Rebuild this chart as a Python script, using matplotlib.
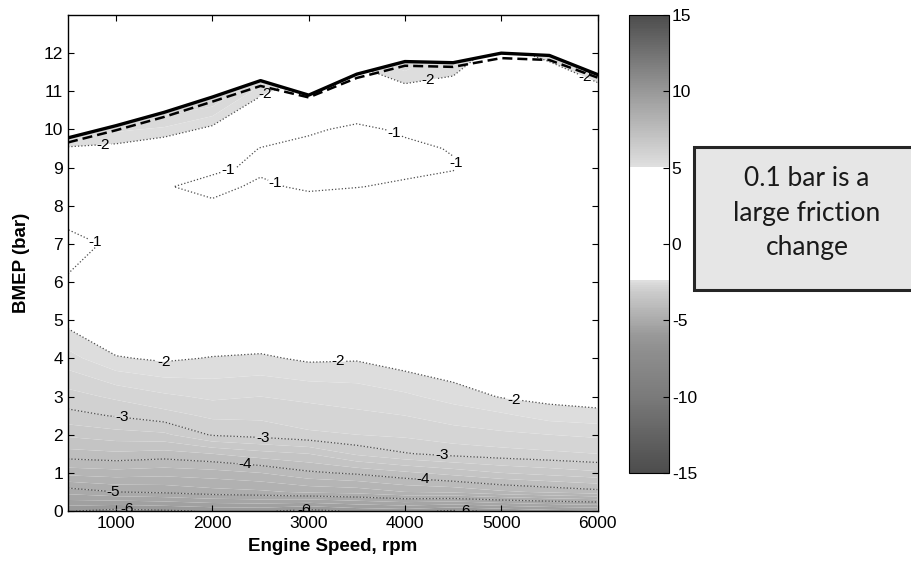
import numpy as np
import matplotlib
matplotlib.use("Agg")
import matplotlib.pyplot as plt
from matplotlib.colors import LinearSegmentedColormap, Normalize
from matplotlib.patches import Polygon, Rectangle
import matplotlib.cm as cm

plt.rcParams['font.family'] = ['Liberation Sans', 'DejaVu Sans']
plt.rcParams['axes.unicode_minus'] = False

# ---------------- data ----------------
speed_rpm = [500, 1000, 1500, 2000, 2500, 3000, 3500, 4000, 4500, 5000, 5500, 6000]
bmep_bar = [0, 0.5, 1, 1.5, 2, 2.5, 3, 4, 5, 6, 7, 8, 8.5, 9, 9.5, 10, 11, 12, 13]

# friction change (FMEP delta) per speed column, one value per bmep_bar row
dfmep_500 = [-5.98, -5.15, -4.4, -3.85, -3.45, -3.08, -2.85, -2.35, -1.9, -1.05, -0.82, -1.3, -1.45, -1.7, -1.97, -2.3, -3.0, -3.5, -4.0]
dfmep_1000 = [-6.1, -5.0, -4.35, -3.8, -3.35, -2.98, -2.7, -2.03, -1.6, -1.35, -1.1, -1.3, -1.4, -1.5, -1.9, -2.3, -3.0, -3.6, -4.2]
dfmep_1500 = [-6.05, -4.95, -4.4, -3.85, -3.3, -2.85, -2.55, -1.95, -1.55, -1.35, -1.25, -1.1, -1.02, -1.15, -1.7, -2.2, -3.0, -3.6, -4.2]
dfmep_2000 = [-5.97, -4.85, -4.35, -3.75, -2.97, -2.7, -2.45, -2.02, -1.6, -1.4, -1.2, -1.05, -0.92, -1.05, -1.4, -1.9, -2.9, -3.5, -4.1]
dfmep_2500 = [-5.95, -4.8, -4.25, -3.6, -2.9, -2.7, -2.5, -2.05, -1.65, -1.45, -1.3, -1.2, -1.05, -0.95, -0.98, -1.35, -2.1, -3.0, -3.8]
dfmep_3000 = [-6.1, -4.7, -4.05, -3.5, -2.8, -2.6, -2.45, -1.95, -1.6, -1.4, -1.3, -1.15, -0.95, -0.9, -0.9, -1.05, -1.6, -2.8, -3.6]
dfmep_3500 = [-5.95, -4.65, -3.95, -3.2, -2.75, -2.55, -2.4, -1.97, -1.65, -1.45, -1.3, -1.2, -0.99, -0.88, -0.86, -0.93, -1.4, -2.3, -3.2]
dfmep_4000 = [-5.9, -4.5, -3.8, -3.02, -2.7, -2.5, -2.3, -1.85, -1.6, -1.45, -1.3, -1.25, -1.05, -0.92, -0.93, -1.05, -1.85, -2.6, -3.3]
dfmep_4500 = [-6.05, -4.45, -3.65, -2.92, -2.6, -2.4, -2.15, -1.75, -1.55, -1.45, -1.35, -1.3, -1.15, -0.97, -1.02, -1.2, -1.9, -2.15, -3.0]
dfmep_5000 = [-5.95, -4.3, -3.5, -2.85, -2.55, -2.3, -1.98, -1.7, -1.5, -1.45, -1.4, -1.35, -1.3, -1.25, -1.3, -1.4, -1.6, -1.9, -2.6]
dfmep_5500 = [-5.85, -4.2, -3.4, -2.8, -2.5, -2.15, -1.9, -1.65, -1.5, -1.45, -1.4, -1.4, -1.35, -1.3, -1.35, -1.45, -1.65, -2.1, -2.8]
dfmep_6000 = [-5.8, -4.1, -3.3, -2.75, -2.45, -2.1, -1.85, -1.6, -1.5, -1.45, -1.4, -1.4, -1.4, -1.4, -1.45, -1.55, -1.85, -2.5, -3.0]

# full-load (max torque) curves
max_bmep_solid = [9.78, 10.1, 10.45, 10.85, 11.28, 10.9, 11.45, 11.78, 11.75, 12.0, 11.94, 11.44]
max_bmep_dashed = [9.66, 9.98, 10.33, 10.73, 11.14, 10.84, 11.35, 11.67, 11.64, 11.87, 11.82, 11.36]

contour_levels = [-6, -5, -4, -3, -2, -1]
cbar_ticks = [-15, -10, -5, 0, 5, 10, 15]
x_ticks = [1000, 2000, 3000, 4000, 5000, 6000]
y_ticks = list(range(0, 13))
note_text = "0.1 bar is a\nlarge friction\nchange"

# where the contour labels sit (layout only)
label_spots = [(800, 7.19), (2150, 9.03), (2640, 8.47), (3900, 10.05), (4500, 9.08),
               (870, 9.52), (2530, 11.0), (4250, 11.18), (5870, 11.35),
               (1490, 3.75), (3310, 3.88), (5140, 2.97),
               (1060, 2.47), (2530, 1.86), (4390, 1.42),
               (2340, 1.18), (4190, 0.73),
               (970, 0.39),
               (1110, 0.05), (2950, 0.05), (4620, 0.05)]

# ---------------- figure ----------------
W, H = 911, 568
fig = plt.figure(figsize=(W / 100, H / 100), dpi=100)
ax = fig.add_axes([68 / W, 1 - 511 / H, (597.5 - 68) / W, (511 - 15) / H])

Z = np.column_stack([dfmep_500, dfmep_1000, dfmep_1500, dfmep_2000, dfmep_2500, dfmep_3000,
                     dfmep_3500, dfmep_4000, dfmep_4500, dfmep_5000, dfmep_5500, dfmep_6000])
X, Y = np.meshgrid(speed_rpm, bmep_bar)


def gray_cmap(white_lo):
    anchors = [(-15, 0.30), (-10, 0.48), (-7, 0.56), (-6, 0.60), (-5, 0.67), (-4, 0.74),
               (-3, 0.81), (white_lo - 0.01, 0.88), (white_lo, 1.0), (5.0, 1.0),
               (5.01, 0.88), (10, 0.60), (15, 0.30)]
    return LinearSegmentedColormap.from_list(
        "g", [((v + 15) / 30, (g, g, g)) for v, g in anchors])


norm = Normalize(-15, 15)
cmap_plot = gray_cmap(-2.0)
cmap_bar = gray_cmap(-2.36)

fill_levels = list(np.linspace(-7, -2, 21)) + [0]
cf = ax.contourf(X, Y, Z, levels=fill_levels, cmap=cmap_plot, norm=norm, antialiased=True)

clip_x = [speed_rpm[0]] + speed_rpm + [speed_rpm[-1]]
clip_y = [-1] + max_bmep_solid + [-1]
clip = Polygon(np.column_stack([clip_x, clip_y]), closed=True, transform=ax.transData,
               facecolor='none', edgecolor='none')
ax.add_patch(clip)
cf.set_clip_path(clip)

cs = ax.contour(X, Y, Z, levels=contour_levels, colors='0.3', linestyles=':', linewidths=0.9)
cs.set_clip_path(clip)
labels = ax.clabel(cs, fmt='%d', fontsize=11, inline=True, inline_spacing=1,
                   colors='black', manual=label_spots)
for t in labels:
    t.set_rotation(0)

ax.plot(speed_rpm, max_bmep_dashed, color='black', lw=1.8, ls=(0, (4, 2)))
ax.plot(speed_rpm, max_bmep_solid, color='black', lw=2.4)

ax.set_xlim(500, 6000)
ax.set_ylim(0, 13)
ax.set_xticks(x_ticks)
ax.set_yticks(y_ticks)
ax.tick_params(direction='in', top=True, right=True, length=4, labelsize=12.5)
for s in ax.spines.values():
    s.set_linewidth(1.0)
ax.set_xlabel("Engine Speed, rpm", fontsize=13.5, fontweight='bold', labelpad=5)
ax.set_ylabel("BMEP (bar)", fontsize=13.5, fontweight='bold', labelpad=10)

# colorbar
cax = fig.add_axes([629 / W, 1 - 473 / H, 40 / W, (473 - 15) / H])
sm = cm.ScalarMappable(norm=norm, cmap=cmap_bar)
cb = fig.colorbar(sm, cax=cax, ticks=cbar_ticks)
cb.ax.tick_params(direction='in', length=4, labelsize=12.5, pad=2)
cb.outline.set_linewidth(0.8)

# annotation box
box = Rectangle((694 / W, 1 - 290 / H), (915 - 694) / W, (290 - 147) / H,
                transform=fig.transFigure, facecolor='0.9', edgecolor='0.15', lw=2.2,
                clip_on=False)
fig.patches.append(box)
fig.text(807 / W, 1 - 213 / H, note_text, ha='center', va='center', fontsize=19,
         family=['Lato', 'DejaVu Sans'], linespacing=1.5, color='0.1')

fig.savefig("out.png", dpi=100)
